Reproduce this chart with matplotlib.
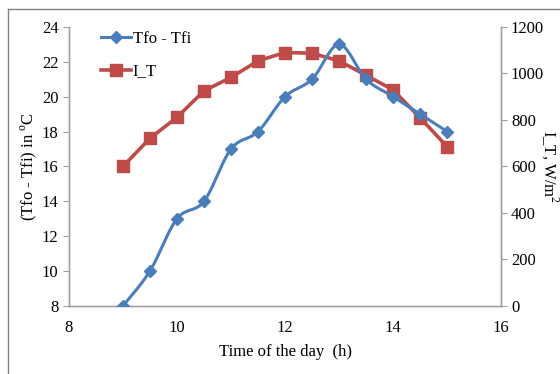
import numpy as np
import matplotlib
matplotlib.use("Agg")
from matplotlib import pyplot as plt
from matplotlib.lines import Line2D

plt.rcParams['font.family'] = ['Liberation Serif', 'DejaVu Serif']
plt.rcParams['mathtext.fontset'] = 'custom'
plt.rcParams['mathtext.rm'] = 'Liberation Serif'

# hora do dia (h)
hora = [9, 9.5, 10, 10.5, 11, 11.5, 12, 12.5, 13, 13.5, 14, 14.5, 15]
# diferenca de temperatura Tfo - Tfi (oC)
dT = [8, 10, 13, 14, 17, 18, 20, 21, 23, 21, 20, 19, 18]
# radiacao incidente I_T (W/m2)
I_T = [600, 721, 811, 925, 983, 1054, 1090, 1087, 1054, 992, 929, 809, 685]

azul = '#4a7ebb'
verm = '#be4b48'
cinza = '#a0a0a0'


def suaviza(x, y, n=20):
    # curva suavizada tipo Catmull-Rom entre os pontos
    x = np.asarray(x, float)
    y = np.asarray(y, float)
    px = np.concatenate([[x[0]], x, [x[-1]]])
    py = np.concatenate([[y[0]], y, [y[-1]]])
    xs, ys = [], []
    for i in range(1, len(px) - 2):
        p0, p1, p2, p3 = [np.array([px[j], py[j]]) for j in range(i - 1, i + 3)]
        c1 = p1 + (p2 - p0) / 6
        c2 = p2 - (p3 - p1) / 6
        t = np.linspace(0, 1, n)[:, None]
        b = (1 - t)**3 * p1 + 3 * (1 - t)**2 * t * c1 + 3 * (1 - t) * t**2 * c2 + t**3 * p2
        xs.extend(b[:, 0])
        ys.extend(b[:, 1])
    return np.array(xs), np.array(ys)


fig = plt.figure(figsize=(5.6, 3.74), dpi=100)
ax = fig.add_axes([0.123, 0.182, 0.772, 0.746])
ax2 = ax.twinx()

xs, ys = suaviza(hora, dT)
ax.plot(xs, ys, color=azul, lw=2.2, zorder=3)
ax.plot(hora, dT, ls='none', marker='D', ms=6, color=azul, zorder=3)
ax2.plot(hora, I_T, color=verm, lw=2.6, marker='s', ms=9, zorder=2)

ax.set_xlim(8, 16)
ax.set_ylim(8, 24)
ax2.set_ylim(0, 1200)
ax.set_xticks(np.arange(8, 17, 2))
ax.set_yticks(np.arange(8, 25, 2))
ax2.set_yticks(np.arange(0, 1201, 200))

for a in (ax, ax2):
    a.spines['top'].set_visible(False)
    for s in ('left', 'right', 'bottom'):
        a.spines[s].set_color(cinza)
        a.spines[s].set_linewidth(1.0)
    a.tick_params(axis='both', labelsize=12, color=cinza, length=4, direction='out')
ax.tick_params(axis='x', length=0, pad=10)
ax2.tick_params(axis='y', pad=3)
ax.set_zorder(ax2.get_zorder() + 1)
ax.patch.set_visible(False)

ax.set_xlabel('Time of the day  (h)', fontsize=12, labelpad=6)
ax.set_ylabel('(Tfo - Tfi) in $^{\\rm o}$C', fontsize=12, labelpad=2)
ax2.set_ylabel('I_T, W/m$^2$', fontsize=12, rotation=270, va='center', ha='center')
ax2.yaxis.set_label_coords(1.112, 0.5)

h1 = Line2D([], [], color=azul, lw=2.2, marker='D', ms=6)
h2 = Line2D([], [], color=verm, lw=2.6, marker='s', ms=9)
ax.legend([h1, h2], ['Tfo - Tfi', 'I_T'], loc='upper left', bbox_to_anchor=(0.04, 1.04),
          frameon=False, fontsize=12, handlelength=1.8, handletextpad=0.1, labelspacing=1.0)

# moldura externa
fig.add_artist(Line2D([0.014, 0.014], [0.0, 0.975], color='#808080', lw=1.0))
fig.add_artist(Line2D([0.014, 1.0], [0.975, 0.975], color='#808080', lw=1.0))

fig.savefig('out.png', dpi=100)
